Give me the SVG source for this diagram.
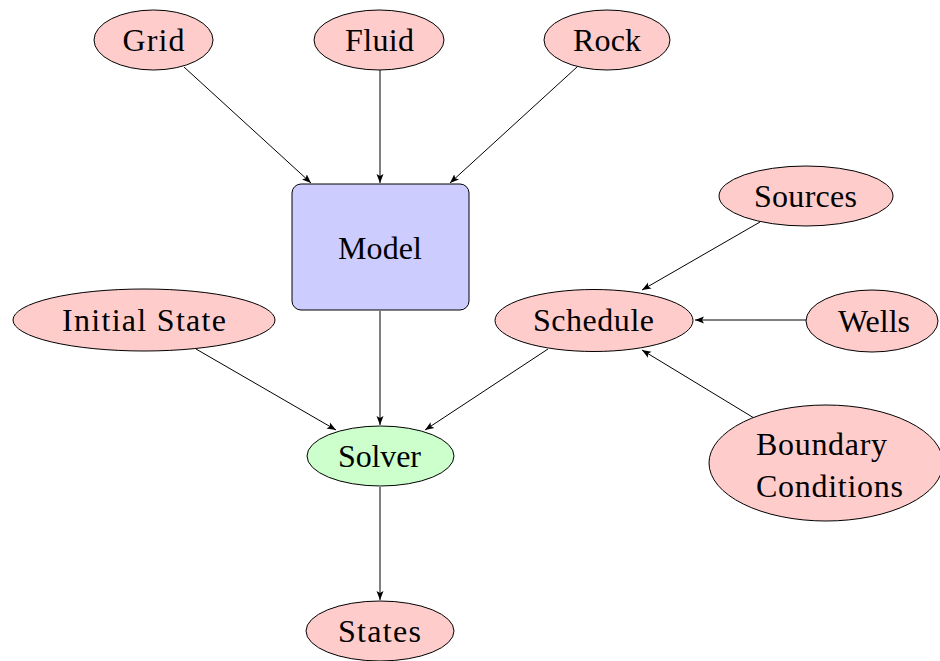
<svg xmlns="http://www.w3.org/2000/svg" width="940" height="661" viewBox="0 0 940 661">
<style>
.n{stroke:#000;stroke-width:1}
.r{fill:#ffcccc}
.b{fill:#ccccff}
.g{fill:#ccffcc}
text{font-family:'Liberation Serif','Times New Roman',serif;font-size:32px;fill:#000;text-anchor:middle}
.c line{stroke:#000;stroke-width:1;marker-end:url(#ah)}
</style>
<defs>
<marker id="ah" markerWidth="10" markerHeight="8" refX="9" refY="4" orient="auto" markerUnits="userSpaceOnUse">
<path d="M0,0.5 L9,4 L0,7.5 L2,4 Z" fill="#000"/>
</marker>
</defs>
<rect width="940" height="661" fill="#fff"/>
<g class="c" id="connectors">
<line x1="184" y1="67" x2="311" y2="183"/>
<line x1="380" y1="70" x2="380" y2="183"/>
<line x1="577" y1="67" x2="450" y2="183"/>
<line x1="380" y1="311" x2="380" y2="425"/>
<line x1="196" y1="349" x2="336" y2="430"/>
<line x1="548" y1="349" x2="425" y2="430"/>
<line x1="760" y1="222" x2="642" y2="290"/>
<line x1="806" y1="320" x2="695" y2="320"/>
<line x1="754" y1="418" x2="642" y2="350"/>
<line x1="380" y1="487" x2="380" y2="600"/>
</g>
<g id="grid"><ellipse class="n r" cx="153.5" cy="40" rx="59.5" ry="30"/><text x="153.5" y="51" textLength="62">Grid</text></g>
<g id="fluid"><ellipse class="n r" cx="379" cy="40" rx="65" ry="30"/><text x="379.5" y="51" textLength="69">Fluid</text></g>
<g id="rock"><ellipse class="n r" cx="607" cy="40" rx="63" ry="30"/><text x="607" y="51" textLength="68">Rock</text></g>
<g id="model"><rect class="n b" x="292" y="184" width="177" height="126" rx="9"/><text x="380" y="259" textLength="84">Model</text></g>
<g id="sources"><ellipse class="n r" cx="806" cy="196" rx="87" ry="30"/><text x="805.5" y="207" textLength="103">Sources</text></g>
<g id="initial"><ellipse class="n r" cx="144" cy="320" rx="131" ry="31"/><text x="144" y="331" textLength="164">Initial State</text></g>
<g id="schedule"><ellipse class="n r" cx="594" cy="320.5" rx="99" ry="31"/><text x="593.5" y="331" textLength="121">Schedule</text></g>
<g id="wells"><ellipse class="n r" cx="872" cy="321" rx="66" ry="31"/><text x="874" y="332" textLength="72">Wells</text></g>
<g id="boundary"><ellipse class="n r" cx="826" cy="463" rx="117" ry="58"/><text x="821.5" y="455" textLength="131">Boundary</text><text x="829.5" y="497" textLength="147">Conditions</text></g>
<g id="solver"><ellipse class="n g" cx="380.5" cy="456" rx="73.5" ry="30"/><text x="379.5" y="467" textLength="83">Solver</text></g>
<g id="states"><ellipse class="n r" cx="380" cy="631" rx="74" ry="30"/><text x="379.5" y="642" textLength="83">States</text></g>
</svg>
